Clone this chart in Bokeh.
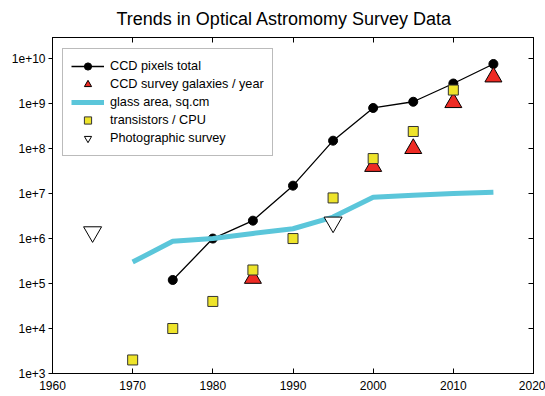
from bokeh.plotting import figure
from bokeh.models import Range1d, LogAxis, LinearAxis, FixedTicker, Legend, LegendItem, Title
from bokeh.embed import file_html
from bokeh.resources import INLINE

# ---- data ----
ccd_years = [1975, 1980, 1985, 1990, 1995, 2000, 2005, 2010, 2015]
ccd_pixels = [1.2e5, 1.0e6, 2.5e6, 1.5e7, 1.5e8, 8.0e8, 1.1e9, 2.8e9, 7.6e9]

galaxy_years = [1985, 2000, 2005, 2010, 2015]
galaxies = [1.3e5, 4.0e7, 1.0e8, 1.05e9, 3.9e9]

glass_years = [1970, 1975, 1980, 1985, 1990, 1995, 2000, 2005, 2010, 2015]
glass_area = [3.0e5, 8.7e5, 1.0e6, 1.3e6, 1.65e6, 3.0e6, 8.3e6, 9.2e6, 1.0e7, 1.07e7]

cpu_years = [1970, 1975, 1980, 1985, 1990, 1995, 2000, 2005, 2010]
transistors = [2.0e3, 1.0e4, 4.0e4, 2.0e5, 1.0e6, 8.0e6, 6.0e7, 2.4e8, 2.0e9]

photo_years = [1965, 1995]
photo_survey = [1.4e6, 2.3e6]

x_ticks = [1960, 1970, 1980, 1990, 2000, 2010, 2020]
x_tick_labels = ["1960", "1970", "1980", "1990", "2000", "2010", "2020"]
y_ticks = [1e3, 1e4, 1e5, 1e6, 1e7, 1e8, 1e9, 1e10]
y_tick_labels = ["1e+3", "1e+4", "1e+5", "1e+6", "1e+7", "1e+8", "1e+9", "1e+10"]

FONT = "Liberation Sans"

p = figure(width=545, height=396, y_axis_type="log",
           x_range=Range1d(1960, 2020), y_range=Range1d(1e3, 2.95e10),
           output_backend="svg", toolbar_location=None,
           x_axis_location=None, y_axis_location=None,
           min_border_left=52, min_border_right=12, min_border_top=37, min_border_bottom=23)
p.grid.visible = False
p.outline_line_color = "black"
p.outline_line_width = 1
p.background_fill_color = "white"
p.border_fill_color = "white"

def style_axis(ax, ticks, labels, show_labels, tick_in, tick_out):
    ax.ticker = FixedTicker(ticks=ticks, minor_ticks=[])
    ax.major_tick_in = tick_in
    ax.major_tick_out = tick_out
    ax.minor_tick_line_color = None
    ax.axis_line_color = "black"
    ax.major_tick_line_color = "black"
    if show_labels:
        ax.major_label_overrides = {t: l for t, l in zip(ticks, labels)}
        ax.major_label_text_font = FONT
        ax.major_label_text_font_size = "12px"
        ax.major_label_text_color = "black"
    else:
        ax.major_label_overrides = {t: "" for t in ticks}
        ax.major_label_text_font_size = "0px"
        ax.major_label_standoff = 0

bx = LinearAxis()
style_axis(bx, x_ticks, x_tick_labels, True, 5, 0)
bx.major_label_standoff = 7
p.add_layout(bx, "below")

tx = LinearAxis()
style_axis(tx, x_ticks, x_tick_labels, False, 5, 0)
p.add_layout(tx, "above")

ly = LogAxis()
style_axis(ly, y_ticks, y_tick_labels, True, 0, 4)
ly.major_label_standoff = 3
p.add_layout(ly, "left")

ry = LogAxis()
style_axis(ry, y_ticks, y_tick_labels, False, 5, 0)
p.add_layout(ry, "right")

p.add_layout(Title(text="Trends in Optical Astromomy Survey Data", align="left", offset=64,
                   vertical_align="middle", text_color="black",
                   text_font=FONT, text_font_size="18px", text_font_style="normal",
                   standoff=15), "above")

# ---- glyphs ----
ccd_line = p.line(ccd_years, ccd_pixels, line_color="black", line_width=1.3)
ccd_dots = p.scatter(ccd_years, ccd_pixels, marker="circle", size=9,
                     fill_color="black", line_color="black")
glass_r = p.line(glass_years, glass_area, line_color="#5bc6da", line_width=5)
gal_r = p.scatter(galaxy_years, galaxies, marker="triangle", size=17,
                  fill_color="#ee2b24", line_color="black", line_width=1)
cpu_r = p.scatter(cpu_years, transistors, marker="square", size=10,
                  fill_color="#eee42a", line_color="#333333", line_width=1)
photo_r = p.scatter(photo_years, photo_survey, marker="inverted_triangle", size=18,
                    fill_color="white", line_color="black", line_width=1)

legend = Legend(items=[
    LegendItem(label="CCD pixels total", renderers=[ccd_line, ccd_dots]),
    LegendItem(label="CCD survey galaxies / year", renderers=[gal_r]),
    LegendItem(label="glass area, sq.cm", renderers=[glass_r]),
    LegendItem(label="transistors / CPU", renderers=[cpu_r]),
    LegendItem(label="Photographic survey", renderers=[photo_r]),
], location=(10, 217), margin=0, padding=8, spacing=0,
    glyph_width=33, glyph_height=18, label_height=18, label_standoff=6,
    label_text_font=FONT, label_text_font_size="12.7px", label_text_color="black",
    border_line_color="#777777", border_line_width=1,
    background_fill_color="white", background_fill_alpha=1.0)
p.add_layout(legend, "center")

open("out.html", "w").write(file_html(p, INLINE))
